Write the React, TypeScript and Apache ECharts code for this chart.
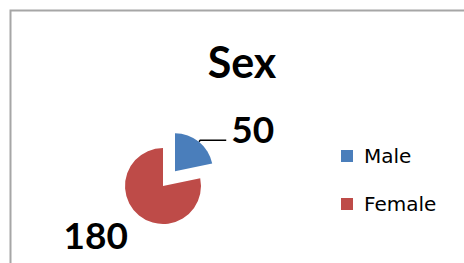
import React, { useEffect, useRef } from "react";
import * as echarts from "echarts";

const categories = ["Male", "Female"];
const values = [50, 180];
const colors = ["#4a7ebb", "#be4b48"];
const titleText = "Sex";

export default function App() {
  const ref = useRef<HTMLDivElement>(null);
  useEffect(() => {
    if (!ref.current) return;
    const chart = echarts.init(ref.current, undefined, { renderer: "svg" });
    chart.setOption({
      animation: false,
      backgroundColor: "#ffffff",
      title: {
        text: titleText,
        left: 237,
        top: 35,
        textAlign: "center",
        textStyle: { fontFamily: "Lato", fontWeight: "bold", fontSize: 43, color: "#000" },
      },
      legend: {
        orient: "vertical",
        left: 336,
        top: 141,
        itemWidth: 12,
        itemHeight: 12,
        itemGap: 28,
        icon: "rect",
        data: categories,
        textStyle: { fontFamily: "DejaVu Sans", fontSize: 20, color: "#000", padding: [0, 0, 0, 6] },
      },
      graphic: [
        {
          type: "rect",
          shape: { x: 10.5, y: 10.5, width: 480, height: 280 },
          style: { fill: "none", stroke: "#a6a6a6", lineWidth: 2 },
          silent: true,
        },
      ],
      series: [
        {
          type: "pie",
          center: [163, 186],
          radius: 38,
          startAngle: 90,
          clockwise: true,
          selectedMode: "single",
          selectedOffset: 19,
          silent: true,
          avoidLabelOverlap: false,
          label: {
            show: true,
            position: "outside",
            formatter: "{c}",
            fontFamily: "Lato",
            fontWeight: "bold",
            fontSize: 37,
            color: "#000",
          },
          labelLine: { show: true, length: 2, length2: 26, lineStyle: { color: "#000", width: 1.5 } },
          labelLayout: (p: any) =>
            p.dataIndex === 1 ? { x: 128, y: 234, align: "right", verticalAlign: "middle" } : {},
          data: categories.map((c, i) => ({
            name: c,
            value: values[i],
            selected: i === 0,
            itemStyle: { color: colors[i] },
            labelLine: { show: i === 0 },
            label: i === 0 ? { formatter: "{c}\n ", lineHeight: 24 } : {},
          })),
        },
      ],
    });
    return () => chart.dispose();
  }, []);
  return <div ref={ref} style={{ position: "fixed", left: 0, top: 0, width: 464, height: 263 }} />;
}
